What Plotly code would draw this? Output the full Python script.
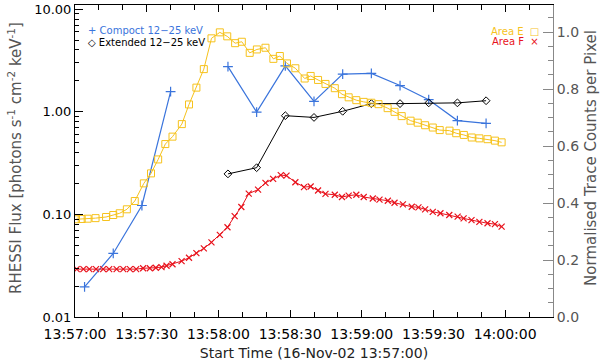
import plotly.graph_objects as go

# seconds after 13:57:00
compact_t = [4, 16, 28, 40, None, 64, 76, 88, 100, 112, 124, 136, 148, 160, 172]
compact_flux = [0.0197, 0.0416, 0.122, 1.57, None, 2.75, 0.99, 2.8, 1.26, 2.33, 2.36, 1.8, 1.31, 0.82, 0.77]

extended_t = [64, 76, 88, 100, 112, 124, 136, 148, 160, 172]
extended_flux = [0.248, 0.285, 0.915, 0.88, 1.01, 1.2, 1.2, 1.22, 1.22, 1.28]

area_e_t = [0.4, 2.8, 5.3, 8.6, 13.0, 16.0, 18.7, 21.7, 25.0, 28.8, 31.8, 34.8, 37.8, 40.8,
            44.7, 47.7, 50.8, 53.9, 57.1, 60.6, 63.7, 67.0, 69.8, 73.1, 76.1, 79.7, 83.0,
            85.7, 88.7, 92.2, 96.1, 98.6, 101.7, 104.8, 108.7, 111.7, 114.5, 117.7, 120.8,
            124.0, 127.0, 130.8, 133.7, 136.7, 140.4, 143.4, 146.5, 149.7, 152.6, 156.7,
            159.5, 162.7, 166.0, 169.2, 172.6, 175.7, 178.5]
area_e = [0.343, 0.344, 0.345, 0.347, 0.351, 0.358, 0.364, 0.378, 0.407, 0.469, 0.504, 0.553,
          0.607, 0.633, 0.677, 0.746, 0.805, 0.870, 0.978, 0.999, 0.985, 0.961, 0.966, 0.927,
          0.939, 0.945, 0.906, 0.916, 0.890, 0.873, 0.837, 0.846, 0.832, 0.818, 0.803, 0.782,
          0.771, 0.761, 0.755, 0.752, 0.747, 0.733, 0.720, 0.705, 0.689, 0.682, 0.673, 0.665,
          0.656, 0.654, 0.645, 0.639, 0.630, 0.627, 0.624, 0.619, 0.613]

area_f_t = [0.7, 3.5, 6.0, 8.8, 11.8, 14.3, 17.4, 20.2, 23.0, 25.6, 28.5, 31.3, 33.8, 36.2,
            38.3, 40.8, 44.6, 47.7, 50.8, 53.9, 57.1, 60.6, 63.8, 66.8, 69.6, 72.7, 76.6,
            79.7, 82.9, 86.1, 88.5, 92.2, 95.8, 98.6, 101.7, 104.8, 108.7, 111.7, 114.5,
            117.7, 120.8, 124.6, 127.4, 130.9, 133.7, 137.2, 140.9, 143.7, 146.5, 149.7,
            152.9, 156.6, 160.1, 162.6, 165.9, 169.2, 172.6, 175.7, 178.5]
area_f = [0.168, 0.168, 0.168, 0.168, 0.168, 0.168, 0.168, 0.168, 0.168, 0.168, 0.171, 0.171,
          0.173, 0.175, 0.180, 0.185, 0.196, 0.208, 0.224, 0.241, 0.262, 0.288, 0.315, 0.354,
          0.386, 0.433, 0.447, 0.471, 0.485, 0.498, 0.496, 0.473, 0.456, 0.458, 0.444, 0.432,
          0.429, 0.421, 0.426, 0.429, 0.421, 0.416, 0.412, 0.408, 0.401, 0.395, 0.387, 0.385,
          0.378, 0.369, 0.364, 0.358, 0.352, 0.346, 0.340, 0.334, 0.329, 0.326, 0.317]

x_tickvals = [0, 30, 60, 90, 120, 150, 180]
x_ticktext = ["13:57:00", "13:57:30", "13:58:00", "13:58:30", "13:59:00", "13:59:30", "14:00:00"]

BLUE = "#3a74dc"
YELLOW = "#f6c21c"
RED = "#e8121c"
GREY = "#555555"
FONT = "DejaVu Sans"

fig = go.Figure()
fig.add_trace(go.Scatter(x=area_e_t, y=area_e, yaxis="y2", mode="lines+markers",
                         line=dict(color=YELLOW, width=1),
                         marker=dict(symbol="square-open", size=7, color=YELLOW, line=dict(width=1))))
fig.add_trace(go.Scatter(x=area_f_t, y=area_f, yaxis="y2", mode="lines+markers",
                         line=dict(color=RED, width=1),
                         marker=dict(symbol="x-thin-open", size=6, color=RED, line=dict(width=1.2, color=RED))))
fig.add_trace(go.Scatter(x=compact_t, y=compact_flux, mode="lines+markers", connectgaps=False,
                         line=dict(color=BLUE, width=1.2),
                         marker=dict(symbol="cross-thin-open", size=7, color=BLUE, line=dict(width=1.2, color=BLUE))))
fig.add_trace(go.Scatter(x=extended_t, y=extended_flux, mode="lines+markers",
                         line=dict(color="black", width=1),
                         marker=dict(symbol="diamond-open", size=6, color="black", line=dict(width=1))))

# legends drawn as text, like the original
fig.add_annotation(x=0.024, y=0.942, xref="paper", yref="paper", xanchor="left", showarrow=False,
                   text="+ Compoct 12−25 keV", font=dict(family=FONT, size=10, color=BLUE))
fig.add_annotation(x=0.024, y=0.904, xref="paper", yref="paper", xanchor="left", showarrow=False,
                   text="◇ Extended 12−25 keV", font=dict(family=FONT, size=10, color="black"))
fig.add_annotation(x=0.975, y=0.940, xref="paper", yref="paper", xanchor="right", showarrow=False,
                   text="Area E  □", font=dict(family=FONT, size=10, color=YELLOW))
fig.add_annotation(x=0.975, y=0.906, xref="paper", yref="paper", xanchor="right", showarrow=False,
                   text="Area F  ×", font=dict(family=FONT, size=10, color=RED))

# axis titles placed by hand
fig.add_annotation(x=-60 / 478, y=0.51, xref="paper", yref="paper", showarrow=False, textangle=-90,
                   xanchor="center", yanchor="middle",
                   text="RHESSI Flux [photons s<sup>-1</sup> cm<sup>-2</sup> keV<sup>-1</sup>]",
                   font=dict(family=FONT, size=15, color=GREY))
fig.add_annotation(x=1 + 38 / 478, y=0.51, xref="paper", yref="paper", showarrow=False, textangle=-90,
                   xanchor="center", yanchor="middle",
                   text="Normalised Trace Counts per Pixel",
                   font=dict(family=FONT, size=15, color=GREY))

fig.update_layout(
    width=600, height=362,
    margin=dict(l=75, r=47, t=5, b=45),
    paper_bgcolor="white", plot_bgcolor="white",
    showlegend=False,
    font=dict(family=FONT, size=13, color="black"),
    xaxis=dict(
        range=[0, 200], tickvals=x_tickvals, ticktext=x_ticktext, automargin=False,
        showgrid=False, zeroline=False, showline=True, linecolor="black", linewidth=1,
        mirror="ticks", ticks="inside", ticklen=7, tickcolor="black",
        minor=dict(dtick=10, ticks="inside", ticklen=5, tickcolor="black"),
        tickfont=dict(size=14), ticklabelstandoff=4,
        title=dict(text="Start Time (16-Nov-02 13:57:00)", font=dict(size=14, color="#222"), standoff=7),
    ),
    yaxis=dict(
        type="log", range=[-2, 1.04], automargin=False,
        tickvals=[0.01, 0.1, 1, 10], ticktext=["0.01", "0.10", "1.00", "10.00"],
        showgrid=False, zeroline=False, showline=True, linecolor="black", linewidth=1,
        ticks="inside", ticklen=8, tickcolor="black",
        minor=dict(tickvals=[m * d for d in [0.01, 0.1, 1] for m in range(2, 10)],
                   ticks="inside", ticklen=4, tickcolor="black"),
        tickfont=dict(size=13),
    ),
    yaxis2=dict(
        overlaying="y", side="right", range=[0, 1.095], automargin=False,
        tickvals=[0, 0.2, 0.4, 0.6, 0.8, 1.0], ticktext=["0.0", "0.2", "0.4", "0.6", "0.8", "1.0"],
        showgrid=False, zeroline=False, showline=True, linecolor="#888", linewidth=1,
        ticks="inside", ticklen=10, tickcolor="#888",
        minor=dict(dtick=0.05, ticks="inside", ticklen=5, tickcolor="#888"),
        tickfont=dict(size=14, color=GREY),
    ),
)

# the page body has a default 8px margin; drop it so the figure sits at the window corner
fig.write_html("out.html", config={"displayModeBar": False},
               post_script="document.body.style.margin='0';")
